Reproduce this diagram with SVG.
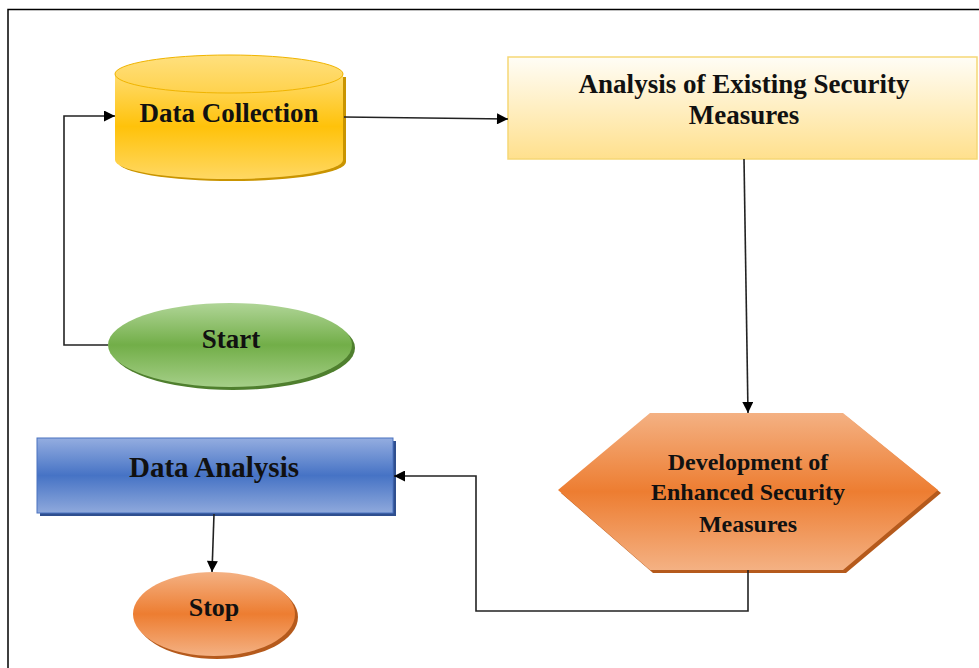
<svg xmlns="http://www.w3.org/2000/svg" width="979" height="668" viewBox="0 0 979 668">
<style>
text{font-family:"Liberation Serif","Times New Roman",serif;font-weight:bold;fill:#111;text-anchor:middle}
.conn{fill:none;stroke:#222;stroke-width:1.6}
</style>
<defs>
<marker id="ah" viewBox="0 0 10 10" refX="10" refY="5" markerWidth="12" markerHeight="11" markerUnits="userSpaceOnUse" orient="auto">
<path d="M0,0 L10,5 L0,10 z" fill="#000"/>
</marker>
<linearGradient id="gY" x1="0" y1="0" x2="0" y2="1">
<stop offset="0" stop-color="#ffdc6e"/><stop offset="0.5" stop-color="#ffc20a"/><stop offset="1" stop-color="#ffd863"/>
</linearGradient>
<linearGradient id="gYt" x1="0" y1="0" x2="0" y2="1">
<stop offset="0" stop-color="#ffe07e"/><stop offset="1" stop-color="#ffd24d"/>
</linearGradient>
<linearGradient id="gLY" x1="0" y1="0" x2="0" y2="1">
<stop offset="0" stop-color="#fffdf6"/><stop offset="1" stop-color="#ffe08d"/>
</linearGradient>
<linearGradient id="gG" x1="0" y1="0" x2="0" y2="1">
<stop offset="0" stop-color="#b0d597"/><stop offset="0.5" stop-color="#72ae48"/><stop offset="1" stop-color="#a5cf88"/>
</linearGradient>
<linearGradient id="gB" x1="0" y1="0" x2="0" y2="1">
<stop offset="0" stop-color="#94ade0"/><stop offset="0.5" stop-color="#4673c5"/><stop offset="1" stop-color="#8fa9dc"/>
</linearGradient>
<linearGradient id="gO" x1="0" y1="0" x2="0" y2="1">
<stop offset="0" stop-color="#f4b183"/><stop offset="0.5" stop-color="#ed7d31"/><stop offset="1" stop-color="#f4b183"/>
</linearGradient>
</defs>
<rect width="979" height="668" fill="#fff"/>
<path d="M8,668 V9.5 H979" fill="none" stroke="#000" stroke-width="1.5"/>

<g id="data-collection">
<path d="M118,77 V162 A114,19 0 0 0 346,162 V77 Z" fill="#c99400"/>
<path d="M115,74 V160 A114,19 0 0 0 343,160 V74 Z" fill="url(#gY)"/>
<ellipse cx="229" cy="74" rx="114" ry="19" fill="url(#gYt)" stroke="#f0b400" stroke-width="1"/>
<text x="229" y="122" font-size="27">Data Collection</text>
</g>

<g id="analysis">
<rect x="508" y="57" width="469" height="102" fill="url(#gLY)" stroke="#f6d776" stroke-width="1.5"/>
<text x="744" y="93" font-size="27">Analysis of Existing Security</text>
<text x="744" y="124" font-size="27">Measures</text>
</g>

<g id="start">
<ellipse cx="233" cy="348" rx="122" ry="42" fill="#4f7f2e"/>
<ellipse cx="230" cy="345" rx="122" ry="42" fill="url(#gG)"/>
<text x="231" y="348" font-size="27">Start</text>
</g>

<g id="development">
<path d="M653,416 H846 L941,493 L846,573 H653 L561,493 Z" fill="#b55a1c"/>
<path d="M650,413 H843 L938,490 L843,570 H650 L558,490 Z" fill="url(#gO)"/>
<text x="748" y="470" font-size="24">Development of</text>
<text x="748" y="500" font-size="24">Enhanced Security</text>
<text x="748" y="532" font-size="24">Measures</text>
</g>

<g id="data-analysis">
<rect x="40" y="441" width="356" height="75" fill="#2f4f8f"/>
<rect x="37" y="438" width="356" height="75" fill="url(#gB)" stroke="#4a72c0" stroke-width="1"/>
<text x="214" y="477" font-size="29">Data Analysis</text>
</g>

<g id="stop">
<ellipse cx="217" cy="617" rx="81" ry="42" fill="#b55a1c"/>
<ellipse cx="214" cy="614" rx="81" ry="42" fill="url(#gO)"/>
<text x="214" y="616" font-size="26">Stop</text>
</g>

<g id="connectors">
<path class="conn" d="M108,345 H64 V116 H115" marker-end="url(#ah)"/>
<path class="conn" d="M344,117 L508,119" marker-end="url(#ah)"/>
<path class="conn" d="M744,159 L748,413" marker-end="url(#ah)"/>
<path class="conn" d="M748,570 V611 H476 V476 H394" marker-end="url(#ah)"/>
<path class="conn" d="M214,514 L212,572" marker-end="url(#ah)"/>
</g>
</svg>
